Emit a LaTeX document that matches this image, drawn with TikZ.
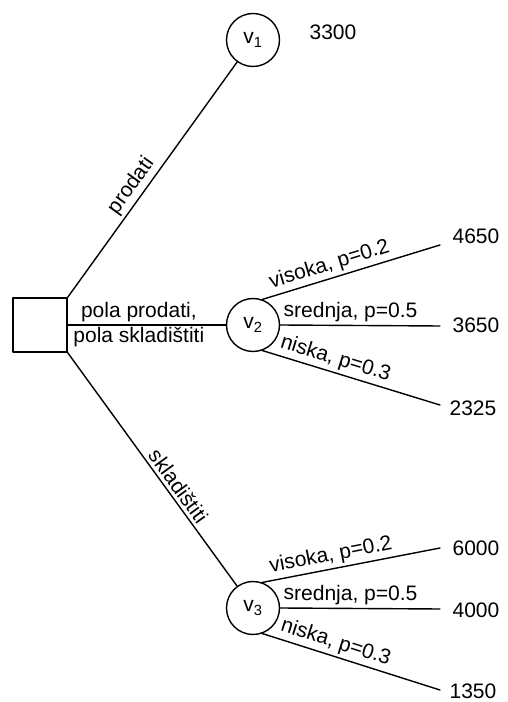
\documentclass[tikz,border=0pt]{standalone}
\usepackage{fontspec}
\setmainfont{Liberation Sans}
\newcommand{\fsz}{\fontsize{21}{25}\selectfont}
\begin{document}
\begin{tikzpicture}[x=1pt,y=1pt,line width=1.4pt,line join=round,line cap=round,font=\fsz,
  odluka/.style={draw,rectangle,minimum size=54pt,inner sep=0pt},
  cvor/.style={draw,circle,minimum size=53pt,inner sep=0pt},
  grana/.style={sloped,above,inner sep=3pt}]
\useasboundingbox (0,0) rectangle (507,702);
\node[odluka] (d) at (40,377) {};
\node[cvor] (v1) at (253,662) {v\textsubscript{1}};
\node[cvor] (v2) at (253,377) {v\textsubscript{2}};
\node[cvor] (v3) at (253,94) {v\textsubscript{3}};
\node (i1) at (333,670) {3300};
\draw (d.north east) -- node[grana,pos=0.44]{prodati} (v1);
\draw (d.east) -- node[pos=0.45,align=center]{pola prodati,\\pola skladištiti} (v2);
\draw (d.south east) -- node[grana,pos=0.6]{skladištiti} (v3);
% grane slucajnih cvorova
\foreach \v/\ya/\yb/\yc/\ta/\tb/\tc/\na/\nb/\nc in
  {v2/457/376/297/466/377/294/4650/3650/2325,
   v3/154/93/12/154/92/11/6000/4000/1350}{
  \coordinate (\v a) at (440,\ya);
  \coordinate (\v b) at (440,\yb);
  \coordinate (\v c) at (440,\yc);
  \draw (\v.70) -- node[grana,pos=0.4]{visoka, p=0.2} (\v a);
  \draw (\v.east) -- node[grana,pos=0.44]{srednja, p=0.5} (\v b);
  \draw (\v.-70) -- node[grana,pos=0.39]{niska, p=0.3} (\v c);
  \node (\v x) at (476,\ta) {\na};
  \node (\v y) at (476,\tb) {\nb};
  \node (\v z) at (473,\tc) {\nc};
}
\end{tikzpicture}
\end{document}
